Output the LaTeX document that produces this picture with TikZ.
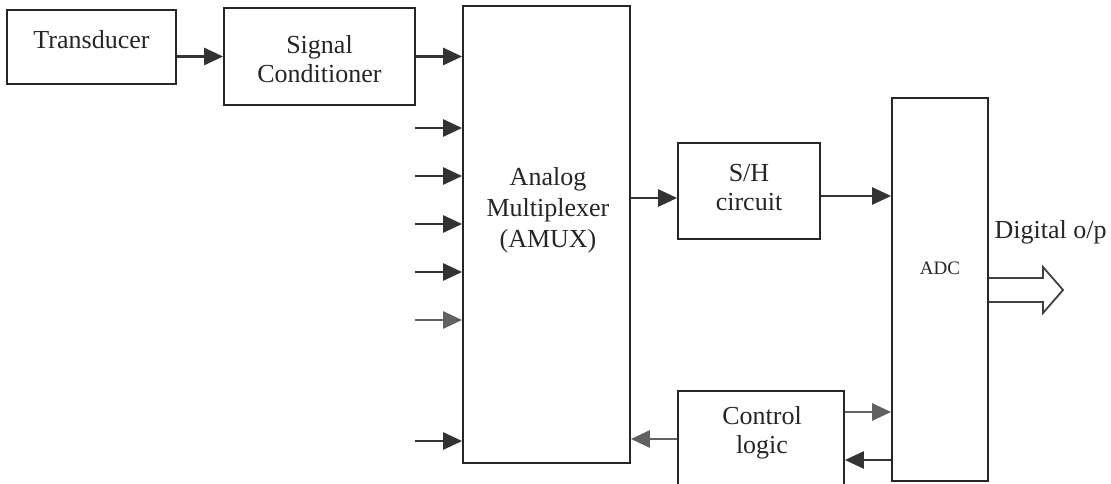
\documentclass[tikz,border=0pt]{standalone}
\usepackage{fontspec}
\setmainfont{Liberation Serif}
\usetikzlibrary{arrows.meta}
\begin{document}
\begin{tikzpicture}[x=1pt,y=-1pt,
  box/.style={draw=black!85, line width=1.8pt, rectangle, inner sep=0pt},
  txt/.style={font=\fontsize{26}{29}\selectfont, align=center, text=black!85},
  arr/.style={line width=2.8pt, draw=black!80, -{Triangle[length=19pt,width=17pt]}},
  garr/.style={arr, draw=black!62},
]
\path[use as bounding box, fill=white] (0,0) rectangle (1111,484);
\clip (0,0) rectangle (1111,484);

% blocks
\node[box, minimum width=169pt, minimum height=74pt] (tr) at (91.5,47) {};
\node[txt] (trt) at (91.5,40) {Transducer};
\node[box, minimum width=191pt, minimum height=97pt] (sc) at (319.5,56.5) {};
\node[txt] (sct) at (319.5,59) {Signal\\Conditioner};
\node[box, minimum width=167pt, minimum height=457pt] (amux) at (546.5,234.5) {};
\node[txt, font=\fontsize{26}{31}\selectfont] (amuxt) at (548,210) {Analog\\Multiplexer\\(AMUX)};
\node[box, minimum width=142pt, minimum height=96pt] (sh) at (749,191) {};
\node[txt] (sht) at (749,188) {S/H\\circuit};
\node[box, minimum width=96pt, minimum height=383pt] (adc) at (940,289.5) {};
\node[txt, font=\fontsize{19}{22}\selectfont] (adct) at (940,268) {ADC};
\node[box, minimum width=166pt, minimum height=130pt, anchor=north] (cl) at (761,390) {};
\node[txt] (clt) at (762,433) {Control\\logic};
\node[txt, anchor=west] (dig) at (991,232) {Digital o/p};

% helper coordinates
\coordinate (in1) at (415,128);
\coordinate (in2) at (415,176);
\coordinate (in3) at (415,224);
\coordinate (in4) at (415,272);
\coordinate (in5) at (415,320);
\coordinate (in6) at (415,441);
\coordinate (ysh) at (0,198);
\coordinate (yha) at (0,196);
\coordinate (ycl) at (0,439);
\coordinate (yca) at (0,412);
\coordinate (yac) at (0,460);
\coordinate (yo1) at (0,278);
\coordinate (yo2) at (0,302);

% connectors
\draw[arr] (tr.east |- sc.west) -- (sc.west);
\draw[arr] (sc.east) -- (sc.east -| amux.west);
\draw[arr] (in1) -- (in1 -| amux.west);
\draw[arr] (in2) -- (in2 -| amux.west);
\draw[arr] (in3) -- (in3 -| amux.west);
\draw[arr] (in4) -- (in4 -| amux.west);
\draw[garr] (in5) -- (in5 -| amux.west);
\draw[arr] (in6) -- (in6 -| amux.west);
\draw[arr] (amux.east |- ysh) -- (sh.west |- ysh);
\draw[arr] (sh.east |- yha) -- (adc.west |- yha);
\draw[garr] (cl.west |- ycl) -- (amux.east |- ycl);
\draw[garr] (cl.east |- yca) -- (adc.west |- yca);
\draw[arr] (adc.west |- yac) -- (cl.east |- yac);

% hollow output arrow
\draw[line width=1.8pt, draw=black!75, line join=miter]
  (adc.east |- yo1) -- (1043,278) -- (1043,267) -- (1063,290)
  -- (1043,313) -- (1043,302) -- (adc.east |- yo2);
\end{tikzpicture}
\end{document}
